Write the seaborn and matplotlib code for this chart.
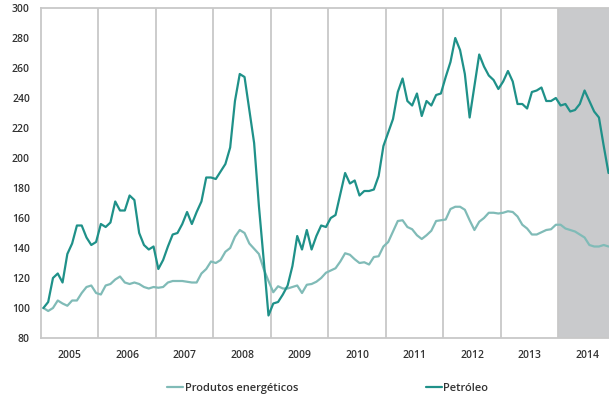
import numpy as np
import pandas as pd
import matplotlib
matplotlib.use("Agg")
import matplotlib.pyplot as plt
import seaborn as sns

# === Data (monthly index, Jan 2005 = 100), Jan 2005 .. Nov 2014 ===
years = list(range(2005, 2015))
forecast_start_year = 2014

petroleo = [
    100, 104, 120, 123, 117, 136, 143, 155, 155, 147, 142, 144,   # 2005
    156, 154, 157, 171, 165, 165, 175, 172, 150, 142, 139, 141,   # 2006
    126, 132, 141, 149, 150, 156, 164, 156, 164, 171, 187, 187,   # 2007
    186, 191, 196, 207, 238, 256, 254, 232, 210, 168, 132, 95,    # 2008
    103, 104, 109, 115, 128, 148, 139, 152, 139, 148, 155, 154,   # 2009
    160, 162, 176, 190, 183, 185, 175, 178, 178, 179, 188, 208,   # 2010
    217, 226, 244, 253, 238, 235, 243, 228, 238, 235, 242, 243,   # 2011
    254, 264, 280, 272, 256, 227, 248, 269, 261, 255, 252, 246,   # 2012
    251, 258, 251, 236, 236, 233, 244, 245, 247, 238, 238, 240,   # 2013
    235, 236, 231, 232, 236, 245, 238, 231, 227, 208, 190,        # 2014
]

energeticos = [
    100, 98, 100, 105, 103, 101.5, 105, 105, 110, 114, 115, 110,          # 2005
    109, 115, 116, 119, 121, 117, 116, 117, 116, 114, 113, 114,           # 2006
    113.5, 114, 117, 118, 118, 118, 117.5, 117, 117, 123, 126, 131,       # 2007
    130, 132, 137.5, 140, 147.5, 152, 150, 143, 139.5, 136, 126, 118,     # 2008
    110.5, 114.5, 113, 113, 114, 115, 110, 115.5, 116, 117.5, 120, 123.5, # 2009
    125, 126.5, 131, 136.5, 135.5, 132.5, 130, 130.5, 129, 134, 134.5, 141,  # 2010
    144, 151, 158, 158.5, 154, 152.5, 148.5, 146, 148.5, 151.5, 158, 158.5,  # 2011
    159, 166, 167.5, 167.5, 165.5, 158.5, 152, 157.5, 160, 163.5, 163.5, 163,  # 2012
    163.5, 164.5, 164, 161, 155.5, 153, 149, 149, 150.5, 152, 152.5, 155.5,  # 2013
    155.5, 153, 152, 151, 149, 147, 142, 141, 141, 142, 141,              # 2014
]

series_names = ["Produtos energéticos", "Petróleo"]
colors = {"Produtos energéticos": "#80bbb7", "Petróleo": "#1f9189"}

n = len(petroleo)
df = pd.DataFrame({
    "mes": np.arange(n).tolist() * 2,
    "valor": energeticos + petroleo,
    "serie": [series_names[0]] * n + [series_names[1]] * n,
})

# === Style ===
sns.set_style("white")
plt.rcParams["font.family"] = ["Open Sans", "DejaVu Sans"]
grey = "#c8c8c8"
text_col = "#333333"

fig = plt.figure(figsize=(6.09, 4.01), dpi=100)
ax = fig.add_axes([41 / 609, 63 / 401, 568 / 609, 330 / 401])

# shaded 2014 block
start_2014 = (forecast_start_year - years[0]) * 12 - 0.5
ax.axvspan(start_2014, n + 5, color="#c9cacc", lw=0, zorder=0)

# year boundary lines
for k in range(1, len(years)):
    ax.axvline(k * 12 - 0.5, color=grey, lw=1.3, zorder=1)

sns.lineplot(data=df, x="mes", y="valor", hue="serie", palette=colors,
             hue_order=series_names, linewidth=1.6, ax=ax, legend=False, zorder=3)

ax.set_yticks(range(80, 301, 20))

# year boundaries as ticks, year names centred in each block
ax.set_xticks([k * 12 - 0.5 for k in range(len(years))])
ax.set_xticklabels([])
ax.set_xticks([k * 12 + 5.5 for k in range(len(years))], minor=True)
ax.set_xticklabels([str(y) for y in years], minor=True)
ax.tick_params(axis="x", which="major", length=5, width=1, color=grey, direction="out")
ax.tick_params(axis="x", which="minor", length=0, pad=9, labelsize=7.5, labelcolor=text_col)
ax.tick_params(axis="y", length=0, pad=8, labelsize=7.5, labelcolor=text_col)
for lab in ax.get_xticklabels(minor=True) + ax.get_yticklabels():
    lab.set_fontweight("semibold")

# limits last, so tick setting cannot widen them
ax.set_xlim(-0.5, 118.1)
ax.set_ylim(80, 300)

ax.set_xlabel("")
ax.set_ylabel("")
for side in ["left", "bottom", "top"]:
    ax.spines[side].set_color(grey)
    ax.spines[side].set_linewidth(1.3)
ax.spines["right"].set_visible(False)

# legend below plot
handles = [plt.Line2D([], [], color=colors[s], lw=1.6) for s in series_names]
leg = fig.legend(handles, series_names, loc="center", bbox_to_anchor=(0.538, 0.032),
                 ncol=2, frameon=False, fontsize=8, handlelength=1.5,
                 handletextpad=0.1, columnspacing=11.5)
for t in leg.get_texts():
    t.set_color(text_col)
    t.set_fontweight("semibold")

fig.savefig("out.png", dpi=100)
plt.close(fig)
